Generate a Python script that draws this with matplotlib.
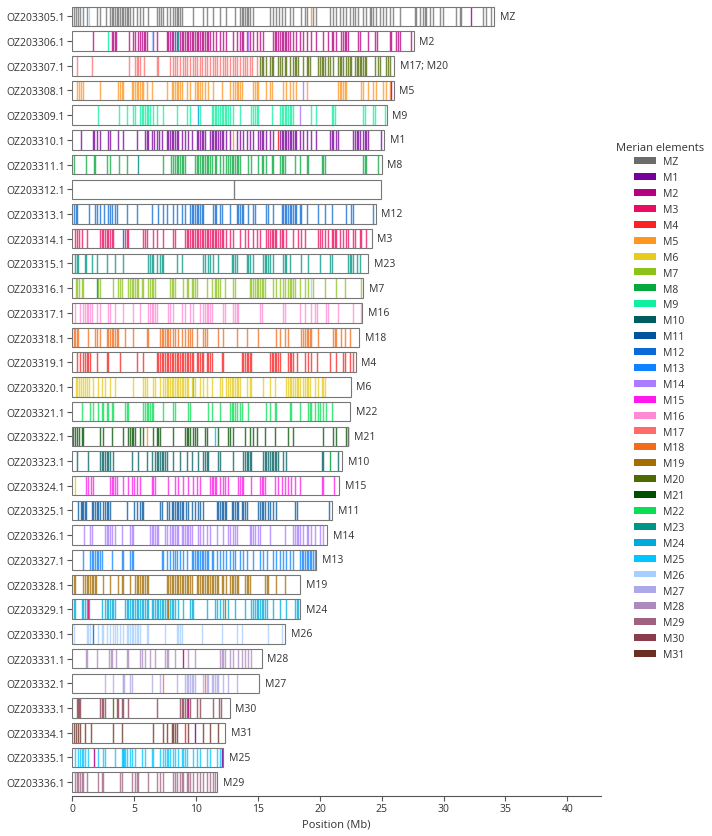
import matplotlib
matplotlib.use("Agg")
import matplotlib.pyplot as plt
from matplotlib.patches import Patch

plt.rcParams['font.family'] = ['Open Sans', 'DejaVu Sans']

# chromosomes, lengths (Mb) and Merian label shown at the right end
chroms = ["OZ203305.1", "OZ203306.1", "OZ203307.1", "OZ203308.1", "OZ203309.1", "OZ203310.1",
          "OZ203311.1", "OZ203312.1", "OZ203313.1", "OZ203314.1", "OZ203315.1", "OZ203316.1",
          "OZ203317.1", "OZ203318.1", "OZ203319.1", "OZ203320.1", "OZ203321.1", "OZ203322.1",
          "OZ203323.1", "OZ203324.1", "OZ203325.1", "OZ203326.1", "OZ203327.1", "OZ203328.1",
          "OZ203329.1", "OZ203330.1", "OZ203331.1", "OZ203332.1", "OZ203333.1", "OZ203334.1",
          "OZ203335.1", "OZ203336.1"]
lengths = [34.07, 27.6, 26.0, 25.95, 25.4, 25.2, 25.0, 24.95, 24.5, 24.2, 23.9, 23.5,
           23.4, 23.2, 22.9, 22.5, 22.45, 22.3, 21.8, 21.55, 21.0, 20.6, 19.7, 18.4,
           18.4, 17.2, 15.3, 15.1, 12.7, 12.35, 12.2, 11.7]
assign = ["MZ", "M2", "M17; M20", "M5", "M9", "M1", "M8", "", "M12", "M3", "M23", "M7",
          "M16", "M18", "M4", "M6", "M22", "M21", "M10", "M15", "M11", "M14", "M13", "M19",
          "M24", "M26", "M28", "M27", "M30", "M31", "M25", "M29"]

elements = ["MZ", "M1", "M2", "M3", "M4", "M5", "M6", "M7", "M8", "M9", "M10", "M11", "M12",
            "M13", "M14", "M15", "M16", "M17", "M18", "M19", "M20", "M21", "M22", "M23", "M24",
            "M25", "M26", "M27", "M28", "M29", "M30", "M31"]
elem_colors = ["#6b6b6b", "#76009a", "#b5007f", "#ea0c5e", "#fa2222", "#ff9620", "#e6cc1e",
               "#8cc21a", "#06a83e", "#10f0a0", "#005e60", "#00549e", "#0a6ad8", "#0f82ff",
               "#aa7dff", "#ff19ee", "#ff8ad4", "#ff6b6b", "#f26c1c", "#a36d00", "#4f6800",
               "#004f00", "#08e053", "#009685", "#00aadd", "#00c5ff", "#a3d0ff", "#ada8e8",
               "#ad89bd", "#a06080", "#8a3b4c", "#6a2e22"]

# gene positions (Mb) of the main element on each chromosome
oz305 = [0.12, 0.28, 0.47, 0.61, 0.88, 1.2, 1.95, 2.22, 2.71, 3.03, 3.16, 3.3, 3.43, 3.57, 3.7,
         3.84, 3.97, 4.11, 4.24, 4.38, 4.51, 4.64, 4.91, 5.18, 5.45, 5.72, 6.12, 6.8, 7.01, 7.15,
         7.34, 7.61, 7.88, 8.15, 8.28, 8.41, 8.55, 8.68, 8.82, 9.71, 10.57, 10.84, 11.33, 11.91,
         12.45, 13.13, 13.53, 13.67, 13.8, 13.93, 14.07, 14.2, 14.34, 14.61, 15.95, 16.17, 16.49,
         16.71, 16.9, 17.17, 17.57, 17.84, 18.51, 18.78, 18.92, 19.46, 19.72, 20.8, 21.07, 21.34,
         21.61, 21.88, 22.15, 22.42, 22.69, 22.82, 23.09, 23.49, 23.76, 24.03, 24.17, 24.3, 24.57,
         24.84, 25.1, 25.38, 25.65, 25.92, 26.45, 27.67, 27.8, 28.07, 28.34, 28.47, 28.6, 28.87,
         29.14, 29.68, 29.95, 31.03, 31.3, 31.43, 33.18, 33.45, 33.86]
oz306 = [1.68, 3.16, 3.3, 3.45, 3.52, 4.6, 4.86, 5.05, 5.32, 5.45, 5.59, 5.75, 5.86, 5.99, 6.54,
         6.8, 7.61, 7.74, 7.88, 8.01, 8.15, 8.41, 8.68, 8.82, 8.95, 9.09, 9.22, 9.36, 9.49, 9.63,
         9.76, 9.9, 10.03, 10.17, 10.3, 10.43, 10.57, 10.7, 10.84, 10.97, 11.1, 11.37, 11.64,
         11.91, 12.18, 12.45, 12.99, 13.26, 13.53, 13.67, 13.8, 14.07, 14.34, 14.61, 14.88, 15.14,
         15.41, 16.22, 16.36, 16.49, 16.63, 16.76, 16.9, 17.03, 17.17, 17.3, 17.44, 17.57, 17.84,
         18.1, 18.38, 18.65, 18.92, 19.32, 19.72, 20.26, 20.67, 20.94, 21.07, 21.34, 21.74, 21.88,
         22.01, 22.15, 22.28, 23.09, 23.22, 23.9, 24.44, 24.62, 25.65, 25.78, 26.19, 26.32, 26.45,
         27.4]
oz307 = [0.34, 1.55, 4.6, 5.05, 5.18, 5.32, 5.45, 5.78, 6.8, 6.93, 7.88, 8.1, 8.28, 8.47, 8.68,
         8.9, 9.09, 9.28, 9.49, 9.71, 9.9, 10.08, 10.3, 10.51, 10.7, 10.89, 11.1, 11.32, 11.51,
         11.7, 11.91, 12.13, 12.32, 12.5, 12.72, 12.94, 13.13, 13.32, 13.53, 13.75, 13.93, 14.12,
         14.34, 14.55, 14.88]
oz307_m20 = [15.14, 15.28, 15.41, 15.68, 15.95, 16.09, 16.22, 16.63, 16.76, 16.9, 17.17, 17.3,
             17.57, 17.84, 17.98, 18.1, 18.24, 18.65, 18.92, 19.05, 19.18, 19.86, 19.99, 20.13,
             20.26, 20.4, 20.67, 20.8, 21.07, 21.47, 21.61, 21.74, 21.88, 22.15, 22.28, 22.42,
             22.55, 22.82, 22.96, 23.09, 23.22, 23.36, 23.49, 23.63, 23.76, 24.44, 24.71, 24.84,
             25.38, 25.51, 25.65]
oz308 = [0.39, 0.55, 0.69, 0.82, 2.22, 3.7, 3.84, 3.97, 4.1, 4.78, 4.91, 5.05, 5.18, 5.32, 5.45,
         5.59, 5.72, 5.99, 6.4, 7.61, 8.01, 8.15, 8.28, 8.41, 8.55, 8.68, 8.82, 9.22, 9.49, 9.9,
         10.03, 10.17, 10.3, 10.43, 10.7, 10.97, 11.37, 12.05, 12.72, 12.99, 13.13, 13.26, 13.4,
         13.53, 13.67, 14.61, 14.74, 14.88, 15.01, 15.68, 15.95, 16.09, 17.03, 17.3, 17.57, 17.84,
         18.1, 18.92, 21.47, 21.61, 21.74, 21.88, 22.01, 22.15, 23.36, 23.49, 23.9, 24.3, 24.57,
         25.11, 25.38, 25.65]
oz309 = [2.09, 3.76, 4.38, 4.91, 5.05, 5.45, 5.59, 5.72, 5.86, 5.99, 6.13, 6.26, 6.53, 6.8, 7.34,
         8.41, 9.22, 9.49, 10.3, 11.24, 11.37, 11.51, 11.64, 11.78, 11.91, 12.05, 12.18, 12.32,
         12.45, 12.59, 12.72, 12.99, 13.53, 14.47, 14.61, 14.74, 14.88, 15.01, 16.09, 16.76, 16.9,
         17.03, 17.17, 17.3, 17.44, 17.57, 17.7, 17.84, 19.32, 19.72, 20.94, 21.07, 21.2, 23.49,
         23.63, 24.3, 24.44, 25.24]
oz310 = [0.66, 1.63, 1.76, 1.95, 2.22, 2.89, 3.03, 3.7, 4.1, 5.18, 5.86, 5.99, 6.13, 6.39, 6.58,
         6.8, 7.01, 7.2, 7.61, 7.74, 7.88, 8.01, 8.15, 8.28, 8.41, 8.55, 8.82, 9.09, 9.36, 9.63,
         10.03, 10.17, 10.3, 10.43, 10.57, 10.7, 11.1, 11.24, 11.37, 11.51, 11.64, 11.78, 11.91,
         12.05, 12.18, 12.45, 12.72, 13.26, 13.53, 13.8, 14.07, 14.34, 14.61, 15.01, 15.14, 15.28,
         15.41, 15.68, 15.95, 16.22, 16.76, 16.9, 17.03, 17.17, 17.3, 17.44, 17.57, 17.7, 17.84,
         17.98, 18.1, 18.38, 18.65, 18.92, 19.32, 19.72, 20.8, 20.94, 21.07, 21.34, 21.47, 22.69,
         22.82, 22.96, 23.09, 23.22, 23.49, 23.63, 23.76, 23.9, 24.97]
oz311 = [0.12, 1.09, 1.76, 1.82, 2.76, 3.03, 3.78, 4.38, 7.34, 7.93, 8.1, 8.28, 8.41, 8.55, 8.68,
         8.82, 8.95, 9.09, 9.9, 10.03, 10.17, 10.3, 10.43, 10.57, 10.7, 10.84, 10.97, 11.1, 11.24,
         11.51, 11.64, 11.91, 12.18, 12.45, 12.59, 12.72, 12.86, 12.99, 13.13, 13.26, 13.4, 13.53,
         14.2, 14.47, 15.01, 15.28, 15.41, 15.68, 16.09, 16.22, 16.76, 16.9, 17.03, 17.17, 17.98,
         18.38, 18.92, 19.05, 20.13, 20.26, 20.4, 23.49, 23.63, 23.76, 24.7]
oz312 = []
oz313 = [0.12, 0.28, 0.39, 1.36, 1.82, 1.95, 2.22, 2.54, 2.89, 3.03, 3.16, 3.43, 3.57, 4.38, 5.18,
         6.39, 6.93, 7.34, 7.61, 8.15, 8.41, 8.82, 9.09, 9.49, 9.63, 9.76, 9.9, 10.03, 10.17, 10.3,
         10.43, 10.57, 11.37, 11.51, 11.64, 11.91, 12.05, 12.72, 13.26, 13.4, 13.53, 13.67, 13.8,
         14.2, 14.61, 14.74, 15.68, 15.82, 16.22, 16.9, 17.03, 17.17, 17.3, 17.44, 17.57, 17.7,
         17.84, 17.98, 18.1, 18.38, 18.51, 18.92, 19.86, 20.4, 20.94, 22.15, 22.55, 22.69, 24.3]
oz314 = [0.2, 0.39, 0.55, 0.74, 1.2, 2.22, 2.36, 2.49, 2.63, 2.76, 2.89, 3.03, 3.16, 3.3, 4.24,
         4.38, 4.51, 5.72, 5.86, 5.99, 6.53, 6.8, 7.34, 8.15, 8.28, 9.09, 9.22, 9.36, 9.49, 9.63,
         9.76, 9.9, 10.03, 10.17, 10.3, 10.43, 10.57, 10.7, 10.84, 10.97, 11.1, 11.24, 11.37,
         11.51, 11.64, 11.78, 11.91, 12.05, 12.18, 12.45, 12.72, 12.99, 13.53, 13.93, 14.2, 14.61,
         14.88, 15.14, 15.68, 15.82, 15.95, 16.09, 16.22, 16.36, 16.49, 16.76, 16.9, 17.03, 17.3,
         17.84, 18.24, 18.51, 18.78, 19.86, 19.99, 20.13, 20.4, 20.67, 20.94, 21.07, 21.2, 21.34,
         21.61, 21.88, 22.15, 22.28, 22.69, 22.82, 23.22, 23.36, 23.71]
oz315 = [0.2, 0.34, 0.47, 1.01, 1.09, 1.55, 1.95, 2.76, 3.43, 4.1, 6.13, 6.26, 6.39, 6.53, 6.8,
         7.07, 7.2, 7.34, 8.41, 8.82, 10.57, 10.7, 10.97, 11.1, 11.37, 11.78, 12.86, 12.99, 13.13,
         13.26, 14.07, 14.2, 14.34, 14.61, 15.41, 15.55, 15.68, 15.82, 15.95, 16.22, 17.03, 17.17,
         17.3, 17.57, 18.51, 19.05, 19.99, 20.8, 20.94, 22.28, 22.42, 22.55, 22.69, 22.96, 23.22]
oz316 = [0.28, 0.39, 0.55, 0.74, 0.88, 2.09, 2.22, 3.3, 3.7, 3.84, 3.97, 4.51, 4.64, 4.78, 4.91,
         5.05, 5.18, 5.32, 5.59, 5.72, 6.13, 6.26, 6.39, 6.53, 6.66, 7.88, 8.01, 8.15, 8.28, 8.95,
         9.22, 9.36, 9.63, 9.76, 9.9, 10.03, 10.84, 11.24, 11.51, 11.64, 11.78, 11.91, 12.32,
         12.99, 13.13, 14.34, 14.47, 14.61, 14.74, 14.88, 15.01, 15.14, 15.28, 15.41, 15.55, 16.22,
         16.49, 16.76, 17.03, 17.17, 17.44, 17.57, 17.7, 17.84, 17.98, 18.38, 18.78, 19.05, 19.46,
         20.4, 21.34, 22.01, 23.36]
oz317 = [0.2, 0.61, 0.88, 1.01, 1.14, 1.28, 1.41, 1.55, 1.95, 2.22, 2.89, 3.03, 3.43, 4.1, 4.91,
         5.45, 6.13, 6.26, 6.39, 6.53, 6.66, 6.8, 7.74, 7.88, 8.15, 8.82, 9.09, 9.49, 9.76, 10.3,
         10.57, 10.7, 10.84, 10.97, 11.1, 11.24, 12.18, 12.32, 12.99, 13.13, 13.26, 13.4, 15.14,
         15.28, 17.03, 17.17, 18.38, 18.78, 19.32, 19.59, 19.73, 20.53, 20.67, 21.47, 22.68, 23.36]
oz318 = [0.12, 0.2, 0.34, 0.47, 1.28, 1.82, 1.95, 2.22, 2.76, 2.89, 3.03, 3.16, 3.3, 3.43, 3.57,
         3.7, 4.24, 4.91, 5.99, 6.13, 7.07, 7.2, 7.34, 7.47, 7.61, 7.74, 7.88, 8.15, 8.28, 8.55,
         8.82, 9.09, 9.36, 9.49, 9.63, 10.03, 10.57, 10.7, 10.84, 11.78, 12.18, 13.26, 14.07,
         15.01, 16.49, 16.76, 17.17, 17.44, 18.51, 18.65, 18.78, 18.92, 19.05, 19.18, 19.32,
         19.86, 21.07, 21.2, 21.34, 21.74, 22.01, 22.42]
oz319 = [0.34, 0.61, 0.82, 1.01, 1.14, 1.28, 1.41, 1.95, 2.76, 2.89, 3.84, 5.18, 5.72, 6.8, 6.93,
         7.07, 7.2, 7.34, 7.47, 7.61, 7.74, 7.88, 8.01, 8.15, 8.28, 8.41, 8.55, 8.68, 8.82, 8.95,
         9.09, 9.22, 9.36, 9.49, 9.63, 9.76, 10.03, 10.17, 10.3, 10.43, 10.57, 10.84, 10.97, 11.1,
         11.24, 12.05, 12.18, 13.67, 13.8, 13.93, 14.07, 14.2, 14.34, 14.47, 15.95, 16.09, 16.22,
         16.36, 16.49, 16.63, 16.76, 17.44, 17.57, 17.7, 17.84, 18.11, 18.78, 19.05, 19.32, 19.73,
         20.8, 21.34, 21.88, 22.01, 22.42, 22.68]
oz320 = [0.28, 0.39, 0.55, 0.66, 0.82, 1.01, 1.2, 1.36, 1.68, 2.09, 2.36, 2.63, 3.03, 3.43, 4.91,
         5.72, 5.86, 5.99, 6.53, 6.66, 7.07, 7.34, 7.47, 7.61, 7.74, 7.88, 8.01, 8.15, 8.28, 8.41,
         8.55, 8.68, 8.82, 8.95, 9.09, 9.22, 9.36, 9.63, 9.9, 10.3, 10.57, 10.84, 11.24, 11.91,
         12.05, 12.45, 12.59, 12.72, 12.86, 12.99, 13.13, 13.26, 13.4, 13.53, 14.07, 14.34, 14.47,
         15.41, 15.95, 16.36, 17.3, 17.44, 17.57, 17.7, 17.84, 17.98, 18.11, 18.24, 18.38, 18.65,
         18.78, 18.92, 19.05, 19.18, 19.59, 19.86, 20.13, 20.26, 20.4]
oz321 = [0.74, 1.41, 1.68, 2.09, 2.36, 2.49, 2.76, 2.89, 3.16, 3.3, 4.24, 4.38, 4.51, 5.72, 5.86,
         5.99, 6.13, 6.26, 6.39, 6.53, 7.34, 8.15, 8.28, 9.36, 9.49, 10.97, 11.24, 11.91, 12.72,
         12.86, 12.99, 13.13, 13.26, 13.53, 13.67, 14.2, 15.68, 15.95, 16.36, 16.49, 17.57, 17.7,
         18.38, 19.05, 19.18, 19.32, 19.59, 19.86, 19.99, 20.26, 20.53, 20.94]
oz322 = [0.07, 0.2, 0.39, 0.55, 0.74, 0.88, 2.22, 2.49, 3.16, 4.1, 4.51, 4.64, 4.78, 4.91, 5.05,
         5.45, 5.72, 6.53, 6.8, 6.93, 7.07, 8.15, 9.09, 9.22, 9.36, 9.49, 9.76, 9.9, 10.03, 10.7,
         10.84, 11.78, 12.59, 12.72, 12.99, 13.93, 14.34, 14.61, 14.88, 15.55, 16.36, 17.44, 17.84,
         20.26, 21.07, 21.34, 22.15, 22.28]
oz323 = [0.34, 1.28, 2.22, 2.36, 2.49, 2.63, 2.76, 2.89, 3.03, 3.3, 4.78, 5.32, 5.99, 6.39, 6.66,
         6.8, 6.93, 7.07, 7.2, 7.34, 7.47, 7.61, 8.15, 8.68, 9.22, 9.63, 10.17, 10.57, 10.7, 10.84,
         10.97, 11.78, 11.91, 12.99, 13.8, 13.93, 14.07, 14.2, 14.34, 14.47, 15.41, 15.55, 15.68,
         15.82, 15.95, 16.09, 16.22, 16.36, 16.49, 16.63, 17.03, 17.3, 20.13, 20.26, 21.47]
oz324 = [1.09, 1.28, 1.47, 1.68, 3.03, 3.16, 3.3, 3.43, 3.57, 4.1, 4.51, 4.78, 4.97, 5.18, 5.45,
         6.39, 6.53, 6.66, 7.74, 8.28, 8.55, 8.95, 9.36, 9.76, 10.03, 10.3, 11.1, 11.24, 11.37,
         11.51, 11.64, 11.91, 12.18, 12.32, 12.59, 13.4, 13.53, 13.67, 13.8, 14.47, 15.14, 15.28,
         15.41, 15.55, 16.36, 16.63, 16.9, 17.17, 17.43, 17.7, 17.97, 18.38, 20.13, 20.26, 21.15]
oz325 = [0.47, 0.66, 0.79, 0.88, 1.01, 1.09, 1.55, 1.68, 1.82, 1.95, 2.09, 2.22, 2.49, 2.63, 2.76,
         2.89, 3.03, 4.38, 4.97, 5.18, 5.45, 5.59, 5.72, 7.07, 7.2, 7.66, 7.82, 8.01, 8.15, 8.28,
         8.41, 8.55, 8.68, 8.82, 8.95, 9.17, 9.3, 9.63, 9.9, 10.17, 10.3, 10.57, 11.65, 11.78,
         11.92, 12.05, 12.19, 12.32, 12.45, 12.86, 12.99, 13.13, 13.26, 13.4, 13.67, 13.8, 13.93,
         14.07, 15.01, 15.15, 15.28, 15.42, 15.55, 15.82, 15.96, 16.22, 16.49, 17.97, 18.11, 20.75]
oz326 = [0.93, 1.41, 1.55, 2.63, 2.76, 2.89, 3.03, 3.16, 3.43, 3.97, 4.65, 4.78, 4.91, 6.26, 6.39,
         6.53, 6.66, 6.8, 6.93, 7.47, 7.61, 7.88, 8.01, 8.15, 8.28, 8.42, 8.55, 8.82, 8.95, 9.09,
         9.22, 9.36, 9.49, 9.63, 10.17, 10.3, 10.57, 10.84, 11.11, 11.65, 12.19, 12.59, 12.72,
         12.99, 13.13, 13.26, 14.34, 14.47, 14.61, 14.74, 15.01, 15.15, 15.96, 17.17, 17.84, 17.97,
         18.11, 18.25, 18.38, 18.65, 18.92, 19.05, 19.32, 19.59, 19.99, 20.26]
oz327 = [0.82, 1.41, 1.55, 1.68, 1.82, 1.95, 2.09, 2.22, 2.36, 3.16, 3.97, 4.11, 4.65, 4.78, 4.91,
         7.2, 7.34, 7.61, 7.88, 8.15, 8.28, 8.42, 8.69, 8.95, 9.22, 9.63, 9.76, 9.9, 10.03, 10.17,
         10.3, 10.43, 10.57, 10.7, 10.84, 10.97, 11.24, 11.38, 11.65, 11.92, 12.19, 12.45, 12.72,
         12.99, 13.13, 13.53, 13.8, 14.07, 14.61, 15.15, 15.42, 15.69, 16.22, 16.49, 16.76, 17.03,
         17.3, 17.57, 17.84, 18.38, 18.52, 18.65, 18.79, 18.92, 19.05, 19.19, 19.32, 19.46, 19.59]
oz328 = [0.12, 0.2, 0.82, 1.01, 1.14, 1.28, 1.41, 1.55, 1.68, 1.82, 1.9, 2.49, 3.03, 3.7, 3.97,
         4.11, 4.65, 5.05, 5.18, 5.32, 5.45, 5.59, 5.72, 5.86, 5.99, 6.13, 7.61, 7.74, 7.88, 8.01,
         8.15, 8.28, 8.42, 8.55, 8.69, 8.82, 8.95, 9.09, 9.22, 9.36, 9.49, 9.63, 10.03, 10.17,
         10.3, 10.43, 10.57, 10.7, 10.84, 10.97, 11.11, 11.24, 11.38, 11.51, 11.65, 11.78, 12.05,
         12.19, 12.45, 12.72, 12.86, 12.99, 13.13, 13.26, 13.4, 13.94, 14.07, 14.2, 14.34, 15.55,
         15.69, 15.82, 16.49, 17.17]
oz329 = [0.12, 0.2, 0.74, 0.88, 1.01, 1.14, 1.36, 2.36, 2.63, 2.76, 2.89, 3.03, 3.16, 3.3, 3.43,
         4.24, 4.38, 4.51, 4.65, 4.78, 4.91, 5.05, 5.18, 5.32, 5.45, 5.59, 5.72, 5.86, 5.99, 6.13,
         6.39, 6.53, 6.66, 6.8, 6.93, 7.07, 7.2, 7.34, 7.47, 7.61, 7.88, 8.01, 8.15, 8.28, 8.55,
         8.95, 9.49, 9.63, 9.76, 10.84, 11.51, 11.65, 11.92, 12.19, 12.59, 13.13, 13.94, 14.47,
         14.61, 14.74, 14.88, 15.01, 15.15, 15.28, 15.42, 15.55, 15.69, 16.22, 16.76, 17.3, 17.97,
         18.11, 18.25]
oz330 = [0.12, 1.14, 1.28, 1.41, 2.09, 2.36, 2.49, 2.76, 3.03, 3.3, 3.43, 3.57, 3.84, 4.11, 4.38,
         4.51, 4.65, 4.78, 4.91, 5.05, 5.18, 5.32, 5.45, 5.99, 6.13, 7.47, 8.42, 8.55, 8.69, 8.82,
         10.43, 12.05, 13.26, 13.67, 15.82, 16.9]
oz331 = [1.09, 1.2, 1.95, 2.98, 3.08, 3.16, 3.51, 4.38, 4.51, 5.45, 5.59, 5.86, 6.26, 6.66, 7.47,
         7.61, 7.74, 8.28, 9.36, 9.9, 11.92, 12.05, 12.19, 12.32, 12.72, 12.99, 13.4, 13.67, 13.94,
         14.2, 14.47]
oz332 = [2.63, 3.24, 4.05, 4.11, 4.16, 4.65, 4.78, 6.39, 7.07, 8.42, 9.09, 9.22, 9.36, 9.49, 9.63,
         9.76, 9.9, 10.57, 10.84, 10.97, 11.24, 11.38, 11.51, 11.65, 11.78, 12.19, 12.59, 13.26]
oz333 = [0.39, 0.47, 0.55, 0.61, 2.22, 2.36, 2.44, 2.63, 3.57, 3.7, 3.97, 4.11, 4.51, 6.85, 8.69,
         8.82, 8.95, 9.09, 9.22, 9.49, 10.03, 10.3, 11.38, 11.86, 11.97]
oz334 = [0.12, 0.28, 0.47, 0.61, 1.01, 1.47, 3.24, 3.97, 6.53, 7.34, 7.61, 8.01, 8.15, 8.28, 8.42,
         9.36, 10.57, 11.11, 11.78]
oz335 = [0.2, 0.47, 0.61, 0.74, 0.88, 1.01, 1.28, 2.09, 2.49, 2.63, 3.43, 3.97, 4.05, 4.11, 4.16,
         4.24, 4.38, 4.65, 4.78, 5.05, 5.59, 5.86, 6.39, 6.53, 7.07, 7.34, 7.47, 7.61, 7.74, 7.88,
         8.15, 8.28, 8.55, 8.82, 8.95, 9.09, 9.22, 9.76, 10.03, 10.3, 10.84, 11.11, 11.65, 11.92]
oz336 = [0.2, 0.34, 0.47, 0.61, 0.74, 0.88, 1.14, 2.09, 2.36, 2.49, 3.84, 3.97, 4.78, 5.05, 5.18,
         5.32, 6.13, 6.8, 7.07, 7.34, 8.15, 8.28, 8.42, 8.69, 8.82, 8.95, 9.22, 9.36, 9.49, 9.76,
         10.03, 10.3, 10.57, 10.84, 11.11, 11.38, 11.51]

main_elem = ["MZ", "M2", "M17", "M5", "M9", "M1", "M8", "MZ", "M12", "M3", "M23", "M7", "M16",
             "M18", "M4", "M6", "M22", "M21", "M10", "M15", "M11", "M14", "M13", "M19", "M24",
             "M26", "M28", "M27", "M30", "M31", "M25", "M29"]
main_pos = [oz305, oz306, oz307, oz308, oz309, oz310, oz311, oz312, oz313, oz314, oz315, oz316,
            oz317, oz318, oz319, oz320, oz321, oz322, oz323, oz324, oz325, oz326, oz327, oz328,
            oz329, oz330, oz331, oz332, oz333, oz334, oz335, oz336]

# genes from other elements (chromosome index, position, element)
extra_row = [0, 0, 0, 1, 1, 1, 1, 1, 3, 3, 4, 4, 5, 5, 6, 7, 9, 11, 11, 15, 17, 17, 18, 19,
             24, 24, 24, 25, 26, 27, 27, 28, 28, 29, 29, 30, 30]
extra_pos = [1.36, 19.32, 32.24, 2.89, 6.4, 8.28, 8.55, 14.2, 18.65, 25.78, 10.17, 18.38, 12.99,
             16.63, 5.32, 13.07, 4.1, 1.95, 19.32, 9.76, 5.99, 11.51, 20.8, 0.2, 1.28, 7.74, 12.32,
             1.68, 8.9, 7.34, 10.7, 3.3, 9.36, 9.09, 9.9, 1.76, 12.1]
extra_elem = ["M26", "M5", "M2", "M9", "M26", "M12", "M23", "M14", "M14", "M2", "M24", "M14",
              "M5", "M4", "M23", "MZ", "M12", "M23", "M26", "M7", "M5", "M25", "M8", "M6", "M3",
              "M19", "M19", "M12", "M2", "M17", "M17", "M20", "M2", "M4", "M1", "M2", "M1"]

cmap = dict(zip(elements, elem_colors))
n = len(chroms)
ypos = list(range(n))
h = 0.79

fig = plt.figure(figsize=(7.12, 8.37), dpi=100)
ax = fig.add_axes([0.1018, 0.0481, 0.7419, 0.9459])

ax.barh(ypos, lengths, height=h, left=0, color="white", edgecolor="none", zorder=1)
for i in range(n):
    ax.vlines(main_pos[i], i - h / 2, i + h / 2, colors=cmap[main_elem[i]], lw=1.05, alpha=0.75,
              zorder=2)
ax.vlines(oz307_m20, 2 - h / 2, 2 + h / 2, colors=cmap["M20"], lw=1.05, alpha=0.75, zorder=2)
for r, p, e in zip(extra_row, extra_pos, extra_elem):
    ax.vlines(p, r - h / 2, r + h / 2, colors=cmap[e], lw=1.0, alpha=0.85, zorder=2)
ax.barh(ypos, lengths, height=h, left=0, color="none", edgecolor="#777777", lw=0.8, zorder=3)

for i in range(n):
    ax.text(lengths[i] + 0.45, i, assign[i], va="center", ha="left", fontsize=7.5, color="#333333")

ax.set_ylim(31.55, -0.5)
ax.set_xlim(0, 42.7)
ax.set_yticks(ypos)
ax.set_yticklabels(chroms)
ax.set_xticks(range(0, 41, 5))
ax.set_xlabel("Position (Mb)", fontsize=8, color="#333333", labelpad=3)
for s in ["top", "right", "left"]:
    ax.spines[s].set_visible(False)
ax.spines["bottom"].set_color("#555555")
ax.tick_params(axis="both", labelsize=7.5, colors="#555555", labelcolor="#333333", length=3.5,
               width=0.8, pad=2)

handles = [Patch(facecolor=c, edgecolor="none") for c in elem_colors]
fig.text(0.927, 0.823, "Merian elements", ha="center", va="center", fontsize=8, color="#333333")
fig.legend(handles, elements, loc="upper left", bbox_to_anchor=(0.891, 0.812), frameon=False,
           fontsize=7.5, handlelength=2.1, handleheight=0.65, handletextpad=0.6,
           labelspacing=0.47, borderpad=0, borderaxespad=0, labelcolor="#333333")

fig.savefig("out.png", dpi=100)
